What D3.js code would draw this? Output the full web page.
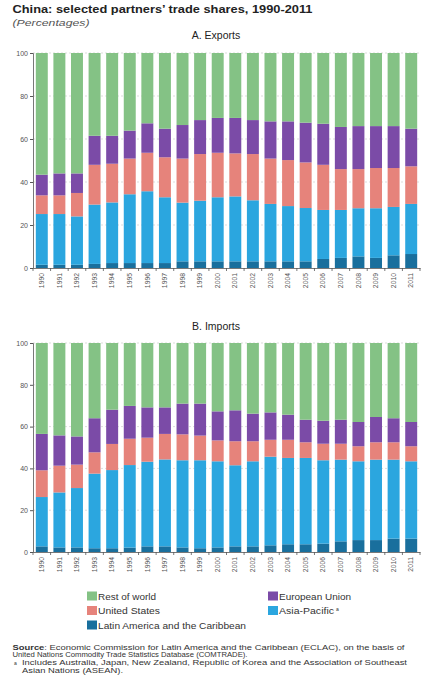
<!DOCTYPE html>
<html><head><meta charset="utf-8">
<script src="https://cdn.jsdelivr.net/npm/d3@7"></script>
<style>
body{margin:0;background:#fff;}
svg{display:block;font-family:"Liberation Sans",Arial,Helvetica,sans-serif;}
</style></head>
<body>
<svg id="c" width="433" height="696"></svg>
<script>
const years = ["1990","1991","1992","1993","1994","1995","1996","1997","1998","1999","2000","2001","2002","2003","2004","2005","2006","2007","2008","2009","2010","2011"];
const seriesKeys = ["lac","asia","us","eu","rest"];
const seriesNames = {rest:"Rest of world", eu:"European Union", us:"United States", asia:"Asia-Pacific", lac:"Latin America and the Caribbean"};
const colors = {rest:"#84c285", eu:"#7b4ba7", us:"#e6837b", asia:"#2ba6df", lac:"#196f9d"};

// Exports shares (%)
const expLAC  = [1.5,1.5,1.5,1.9,2.3,2.3,2.3,2.3,3.1,3.1,3.1,3.1,3.1,3.1,3.1,3.1,4.2,4.7,5.4,4.7,5.9,6.5];
const expAsia = [23.6,23.6,22.5,27.6,28.2,32.0,33.4,30.6,27.3,28.2,29.8,30.2,28.4,26.7,25.7,24.8,22.8,22.3,22.4,23.1,22.5,23.3];
const expUS   = [8.7,8.7,10.9,18.5,18.0,16.6,17.9,18.6,20.5,21.7,20.7,20.0,21.5,21.1,21.4,21.2,21.0,19.0,18.2,18.7,18.1,17.5];
const expEU   = [9.6,10.2,9.1,13.5,13.0,13.0,13.7,13.3,15.6,15.8,16.2,16.5,15.8,17.3,18.0,18.5,19.1,19.6,20.0,19.5,19.5,17.5];
const expRest = [56.6,56.0,56.0,38.5,38.5,36.1,32.7,35.2,33.5,31.2,30.2,30.2,31.2,31.8,31.8,32.4,32.9,34.4,34.0,34.0,34.0,35.2];

// Imports shares (%)
const impLAC  = [2.7,2.2,2.2,1.8,1.8,2.1,2.7,2.7,2.2,1.8,2.2,2.7,2.7,3.2,3.7,3.7,4.0,5.1,5.7,5.7,6.4,6.4];
const impAsia = [23.6,26.3,28.4,35.7,37.4,39.5,40.5,41.6,41.7,42.1,41.2,38.8,40.7,42.4,41.3,41.3,39.9,39.1,37.7,38.5,37.8,37.0];
const impUS   = [12.8,12.8,11.2,10.2,12.5,12.6,11.5,12.2,12.4,11.8,10.0,11.5,9.6,8.1,8.7,7.5,7.9,7.6,7.2,8.3,8.3,7.2];
const impEU   = [17.4,14.5,13.5,16.3,16.4,15.7,14.5,12.7,14.7,15.3,13.9,14.8,13.2,13.1,12.0,10.8,11.0,11.5,11.6,12.1,11.5,11.6];
const impRest = [43.5,44.2,44.7,36.0,31.9,30.1,30.8,30.8,29.0,29.0,32.7,32.2,33.8,33.2,34.3,36.7,37.2,36.7,37.8,35.4,36.0,37.8];

const yTicks = [0,20,40,60,80,100];

function table(lac, asia, us, eu, rest){
  return years.map((y,i)=>({year:y, lac:lac[i], asia:asia[i], us:us[i], eu:eu[i], rest:rest[i]}));
}

const svg = d3.select("#c");
const x = d3.scaleBand().domain(years).range([33,420]).paddingInner(0.32).paddingOuter(0.16);
const stack = d3.stack().keys(seriesKeys);

function panel(data, top, bottom, title, titleY){
  const y = d3.scaleLinear().domain([0,100]).range([bottom, top]);
  const g = svg.append("g");
  g.append("text").attr("x",216).attr("y",titleY).attr("text-anchor","middle")
    .attr("font-size",10.5).attr("fill","#222").text(title);
  // grid
  g.append("g").selectAll("line").data(yTicks.filter(d=>d>0)).join("line")
    .attr("x1",33).attr("x2",420).attr("y1",d=>y(d)).attr("y2",d=>y(d))
    .attr("stroke","#c8c8c8").attr("stroke-width",0.6).attr("stroke-dasharray","2,2");
  // bars
  const layers = stack(data);
  g.append("g").selectAll("g").data(layers).join("g").attr("fill",d=>colors[d.key])
    .selectAll("rect").data(d=>d).join("rect")
    .attr("x",d=>x(d.data.year)).attr("width",x.bandwidth())
    .attr("y",d=>y(d[1])).attr("height",d=>y(d[0])-y(d[1]));
  // y axis
  const ya = g.append("g").attr("transform","translate(33,0)")
    .call(d3.axisLeft(y).tickValues(yTicks).tickSize(3).tickPadding(2));
  ya.select(".domain").attr("stroke","#555").attr("stroke-width",0.8);
  ya.selectAll(".tick line").attr("stroke","#555");
  ya.selectAll("text").attr("font-size",7).attr("fill","#555").attr("font-family","Liberation Sans, Arial, sans-serif");
  // x axis
  const xa = g.append("g").attr("transform",`translate(0,${bottom})`)
    .call(d3.axisBottom(x).tickSize(0).tickPadding(5));
  xa.select(".domain").attr("stroke","#555").attr("stroke-width",0.8);
  xa.selectAll("text").attr("font-size",6.8).attr("fill","#555").attr("font-family","Liberation Sans, Arial, sans-serif")
    .attr("text-anchor","end").attr("dy","0.32em").attr("transform","rotate(-90)")
    .attr("x",-5).attr("y",0);
  // boundary ticks
  const half = (x.step()-x.bandwidth())/2;
  const bounds = years.map(d=>x(d)-half).concat([x(years[years.length-1])+x.bandwidth()+half]);
  g.append("g").selectAll("line").data(bounds).join("line")
    .attr("x1",d=>d).attr("x2",d=>d).attr("y1",bottom).attr("y2",bottom+3)
    .attr("stroke","#555").attr("stroke-width",0.8);
}

// titles
svg.append("text").attr("x",12.5).attr("y",12.5).attr("font-size",11).attr("font-weight","bold").attr("fill","#222")
  .attr("textLength",300).attr("lengthAdjust","spacingAndGlyphs")
  .text("China: selected partners’ trade shares, 1990-2011");
svg.append("text").attr("x",12.5).attr("y",25.5).attr("font-size",9.5).attr("font-style","italic").attr("fill","#555")
  .attr("textLength",77).attr("lengthAdjust","spacingAndGlyphs")
  .text("(Percentages)");

panel(table(expLAC,expAsia,expUS,expEU,expRest), 53, 268, "A. Exports", 38.5);
panel(table(impLAC,impAsia,impUS,impEU,impRest), 343, 552, "B. Imports", 330);

// legend
const legendItems = [
  {key:"rest", col:0, row:0, w:58}, {key:"eu", col:1, row:0, w:72},
  {key:"us", col:0, row:1, w:62}, {key:"asia", col:1, row:1, w:55},
  {key:"lac", col:0, row:2, w:148}
];
const lg = svg.append("g").selectAll("g").data(legendItems).join("g")
  .attr("transform",d=>`translate(${d.col?268:87},${591.5+d.row*14.5})`);
lg.append("rect").attr("width",10).attr("height",9).attr("fill",d=>colors[d.key]);
lg.append("text").attr("x",11).attr("y",8.3).attr("font-size",9.5).attr("fill","#333")
  .attr("textLength",d=>d.w).attr("lengthAdjust","spacingAndGlyphs")
  .text(d=>seriesNames[d.key]);
lg.filter(d=>d.key==="asia").append("text").attr("x",68).attr("y",5).attr("font-size",5).attr("fill","#333").text("a");

// source
const src = svg.append("g").attr("font-size",7.8).attr("fill","#333");
const t1 = src.append("text").attr("x",12.5).attr("y",649.5).attr("textLength",392).attr("lengthAdjust","spacingAndGlyphs");
t1.append("tspan").attr("font-weight","bold").text("Source");
t1.append("tspan").text(": Economic Commission for Latin America and the Caribbean (ECLAC), on the basis of");
src.append("text").attr("x",12.5).attr("y",657).attr("textLength",235).attr("lengthAdjust","spacingAndGlyphs")
  .text("United Nations Commodity Trade Statistics Database (COMTRADE).");
src.append("text").attr("x",14).attr("y",664.5).attr("font-size",5).text("a");
src.append("text").attr("x",22).attr("y",665).attr("textLength",385).attr("lengthAdjust","spacingAndGlyphs")
  .text("Includes Australia, Japan, New Zealand, Republic of Korea and the Association of Southeast");
src.append("text").attr("x",22).attr("y",672.5).attr("textLength",101).attr("lengthAdjust","spacingAndGlyphs")
  .text("Asian Nations (ASEAN).");
</script>
</body></html>
